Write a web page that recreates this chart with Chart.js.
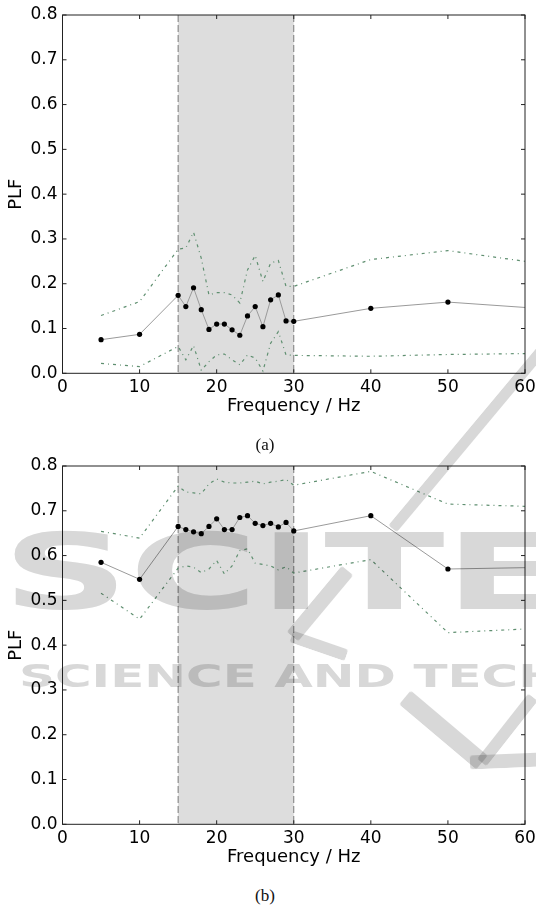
<!DOCTYPE html>
<html><head><meta charset="utf-8">
<script src="https://cdn.jsdelivr.net/npm/chart.js@4.4.1/dist/chart.umd.min.js"></script>
<style>
body{margin:0;background:#fff;width:536px;height:906px;position:relative;overflow:hidden;font-family:'DejaVu Sans',sans-serif}
canvas{position:absolute;left:0}
.cap{position:absolute;left:0;width:530px;text-align:center;font-family:'Liberation Serif',serif;font-size:17px;line-height:17px;color:#111}
.wm{position:absolute;color:#d8d8d8;mix-blend-mode:multiply;font-weight:bold;white-space:nowrap;transform-origin:0 0;pointer-events:none;font-family:'DejaVu Sans',sans-serif}
.bar{position:absolute;background:#d8d8d8;mix-blend-mode:multiply;pointer-events:none;border-radius:3px}
</style></head>
<body>
<canvas id="chA" width="536" height="430" style="top:0"></canvas>
<canvas id="chB" width="536" height="430" style="top:451px"></canvas>
<div class="cap" style="top:436px">(a)</div>
<div class="cap" style="top:887px">(b)</div>
<!-- faint publisher watermark over panel (b) -->
<div class="wm" style="left:2px;top:521px;font-size:105px;line-height:105px;transform:scaleX(1.68)">SCITE</div>
<div class="wm" style="left:19px;top:660px;font-size:32px;line-height:32px;transform:scaleX(1.56)">SCIENCE AND TECH</div>
<script>
// watermark strokes (logo), not chart data
function wmBar(x1,y1,x2,y2,w){
  const d=document.createElement('div');d.className='bar';
  const len=Math.hypot(x2-x1,y2-y1),ang=Math.atan2(y2-y1,x2-x1)*180/Math.PI;
  d.style.cssText=`left:${(x1+x2)/2-len/2}px;top:${(y1+y2)/2-w/2}px;width:${len}px;height:${w}px;transform:rotate(${ang}deg)`;
  document.body.appendChild(d);
}
wmBar(560,328,393,528,11);
wmBar(347,570,292,636,15);wmBar(292,636,347,655,12);
wmBar(405,697,482,762,18);wmBar(482,762,533,697,12);wmBar(470,762,540,759,14);

// frequencies (Hz) and PLF values
const freq=[5,10,15,16,17,18,19,20,21,22,23,24,25,26,27,28,29,30,40,50,60];
const plfA=[0.075,0.087,0.174,0.149,0.191,0.142,0.098,0.110,0.110,0.097,0.085,0.128,0.149,0.104,0.164,0.175,0.117,0.116,0.145,0.159,0.147];
const hiA=[0.129,0.160,0.277,0.280,0.315,0.257,0.175,0.180,0.180,0.175,0.157,0.231,0.263,0.205,0.246,0.252,0.194,0.194,0.254,0.274,0.250];
const loA=[0.022,0.015,0.060,0.030,0.062,0.007,0.026,0.041,0.043,0.030,0.019,0.041,0.034,0.005,0.067,0.093,0.041,0.040,0.038,0.042,0.044];
const plfB=[0.585,0.547,0.665,0.658,0.653,0.649,0.665,0.682,0.658,0.658,0.685,0.689,0.672,0.667,0.672,0.664,0.674,0.655,0.689,0.570,0.573];
const hiB=[0.654,0.639,0.755,0.742,0.740,0.738,0.760,0.771,0.764,0.762,0.762,0.764,0.766,0.760,0.764,0.766,0.770,0.757,0.788,0.715,0.710];
const loB=[0.516,0.458,0.572,0.577,0.574,0.562,0.570,0.589,0.559,0.577,0.611,0.615,0.583,0.580,0.577,0.568,0.575,0.561,0.591,0.428,0.436];
const bandHz=[15,30];
const xTicks=[0,10,20,30,40,50,60];
const yTicks=[0,0.1,0.2,0.3,0.4,0.5,0.6,0.7,0.8];

const pts=v=>freq.map((f,i)=>({x:f,y:v[i]}));

const band={id:'band',beforeDatasetsDraw(c){
  const {ctx,chartArea:a,scales:{x}}=c;
  const x0=x.getPixelForValue(bandHz[0]),x1=x.getPixelForValue(bandHz[1]);
  ctx.save();ctx.fillStyle='#dddddd';ctx.fillRect(x0,a.top,x1-x0,a.bottom-a.top);
  ctx.strokeStyle='#7a7a7a';ctx.lineWidth=1;ctx.setLineDash([7,3]);
  [x0,x1].forEach(p=>{ctx.beginPath();ctx.moveTo(p,a.top);ctx.lineTo(p,a.bottom);ctx.stroke();});
  ctx.restore();
}};
const frame={id:'frame',afterDraw(c){
  const {ctx,chartArea:a,scales:{x,y}}=c;
  ctx.save();ctx.strokeStyle='#222';ctx.lineWidth=1;
  ctx.strokeRect(a.left,a.top,a.right-a.left,a.bottom-a.top);
  ctx.beginPath();
  xTicks.forEach(v=>{const p=x.getPixelForValue(v);ctx.moveTo(p,a.bottom);ctx.lineTo(p,a.bottom-4);ctx.moveTo(p,a.top);ctx.lineTo(p,a.top+4);});
  yTicks.forEach(v=>{const p=y.getPixelForValue(v);ctx.moveTo(a.left,p);ctx.lineTo(a.left+4,p);ctx.moveTo(a.right,p);ctx.lineTo(a.right-4,p);});
  ctx.stroke();ctx.restore();
}};

function mk(id,plf,hi,lo){
  const bound=d=>({data:pts(d),borderColor:'#5f8f70',borderWidth:1.2,borderDash:[3,4,1,4],pointRadius:0,tension:0});
  return new Chart(document.getElementById(id),{
    type:'line',
    data:{datasets:[
      bound(hi),bound(lo),
      {data:pts(plf),borderColor:'#9a9a9a',borderWidth:1,backgroundColor:'#000',pointBorderWidth:0,
       pointRadius:c=>c.raw&&c.raw.x>=60?0:2.6,tension:0}
    ]},
    options:{
      responsive:false,animation:false,
      layout:{padding:{left:0,right:11,top:15,bottom:0}},
      plugins:{legend:{display:false},tooltip:{enabled:false}},
      scales:{
        x:{type:'linear',min:0,max:60,afterFit:s=>{s.height=56.7;s.paddingLeft=0;s.paddingRight=0;},
           afterBuildTicks:s=>{s.ticks=xTicks.map(v=>({value:v}));},
           grid:{display:false,drawTicks:false},border:{display:false},
           ticks:{padding:4,color:'#000',font:{family:'DejaVu Sans',size:17},autoSkip:false,maxRotation:0},
           title:{display:true,text:'Frequency / Hz',color:'#000',font:{family:'DejaVu Sans',size:18,lineHeight:1.2},padding:{top:0,bottom:13}}},
        y:{min:0,max:0.8,afterFit:s=>{s.width=62.5;s.paddingTop=0;s.paddingBottom=0;},
           afterBuildTicks:s=>{s.ticks=yTicks.map(v=>({value:v}));},
           grid:{display:false,drawTicks:false},border:{display:false},
           ticks:{padding:5,color:'#000',font:{family:'DejaVu Sans',size:17},callback:v=>v.toFixed(1)},
           title:{display:true,text:'PLF',color:'#000',font:{family:'DejaVu Sans',size:18,lineHeight:1.2},padding:{top:6,bottom:0}}}
      }
    },
    plugins:[band,frame]
  });
}
mk('chA',plfA,hiA,loA);
mk('chB',plfB,hiB,loB);
</script>
</body></html>
